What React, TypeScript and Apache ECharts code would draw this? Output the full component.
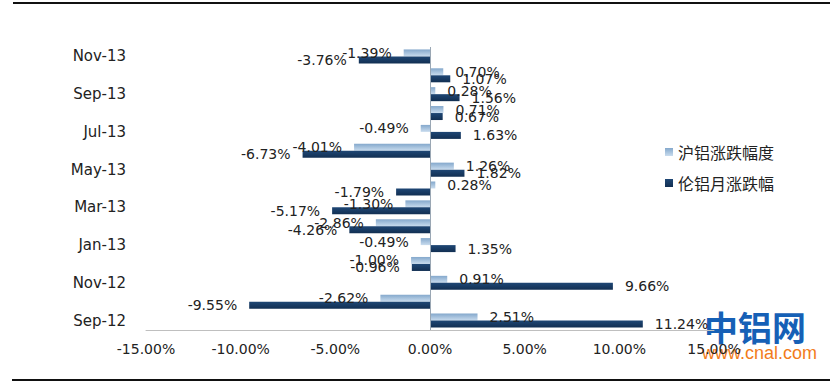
import React, { useEffect, useRef } from "react";
import * as echarts from "echarts";

const categories = [
  "Sep-12", "Oct-12", "Nov-12", "Dec-12", "Jan-13", "Feb-13", "Mar-13", "Apr-13",
  "May-13", "Jun-13", "Jul-13", "Aug-13", "Sep-13", "Oct-13", "Nov-13",
];
const shfeChange = [2.51, -2.62, 0.91, -1.0, -0.49, -2.86, -1.3, 0.28, 1.26, -4.01, -0.49, 0.71, 0.28, 0.7, -1.39];
const lmeChange = [11.24, -9.55, 9.66, -0.96, 1.35, -4.26, -5.17, -1.79, 1.82, -6.73, 1.63, 0.67, 1.56, 1.07, -3.76];
const seriesNames = ["沪铝涨跌幅度", "伦铝月涨跌幅"];

const FONT = "DejaVu Sans";

function mkData(vals: number[]) {
  return vals.map((v) => ({
    value: v,
    label: { position: v >= 0 ? "right" : "left" },
  }));
}

export default function App() {
  const ref = useRef<HTMLDivElement>(null);
  useEffect(() => {
    document.body.style.margin = "0";
    const chart = echarts.init(ref.current!, undefined, { renderer: "svg" });
    const labelCommon = {
      show: true,
      distance: 12,
      fontFamily: FONT,
      fontSize: 14,
      color: "#222",
      formatter: (p: any) => Number(p.value).toFixed(2) + "%",
    };
    chart.setOption({
      animation: false,
      backgroundColor: "#fff",
      grid: { left: 146, right: 123, top: 47, bottom: 56, containLabel: false },
      legend: {
        orient: "vertical",
        left: 660,
        top: 139,
        itemWidth: 8,
        itemHeight: 8,
        itemGap: 15,
        icon: "rect",
        textStyle: { fontFamily: "Noto Sans CJK SC", fontSize: 16, color: "#222" },
        data: seriesNames,
      },
      xAxis: {
        type: "value",
        min: -15,
        max: 15,
        interval: 5,
        axisLine: { show: true, lineStyle: { color: "#bfbfbf", width: 1 } },
        axisTick: { show: false },
        splitLine: { show: false },
        axisLabel: {
          fontFamily: FONT,
          fontSize: 14,
          color: "#222",
          margin: 12,
          formatter: (v: number) => v.toFixed(2) + "%",
        },
      },
      yAxis: {
        type: "category",
        data: categories,
        axisLine: { show: false },
        axisTick: { show: false },
        axisLabel: {
          interval: 1,
          fontFamily: FONT,
          fontSize: 15,
          color: "#222",
          margin: 20,
        },
      },
      series: [
        {
          name: seriesNames[0],
          type: "bar",
          barWidth: 7,
          barGap: "0%",
          itemStyle: {
            color: new echarts.graphic.LinearGradient(0, 0, 0, 1, [
              { offset: 0, color: "#84a8cc" },
              { offset: 1, color: "#c9dcee" },
            ]),
          },
          label: labelCommon,
          data: mkData(shfeChange),
          markLine: {
            silent: true,
            symbol: "none",
            label: { show: false },
            lineStyle: { color: "#9aa7b4", type: "solid", width: 1 },
            data: [{ xAxis: 0 }],
          },
        },
        {
          name: seriesNames[1],
          type: "bar",
          barWidth: 7,
          barGap: "0%",
          itemStyle: {
            color: new echarts.graphic.LinearGradient(0, 0, 0, 1, [
              { offset: 0, color: "#1f4775" },
              { offset: 1, color: "#122f52" },
            ]),
          },
          label: labelCommon,
          data: mkData(lmeChange),
        },
      ],
      graphic: [
        { type: "line", shape: { x1: 13, y1: 3, x2: 830, y2: 3 }, style: { stroke: "#111", lineWidth: 2 } },
        { type: "line", shape: { x1: 12, y1: 380, x2: 830, y2: 380 }, style: { stroke: "#111", lineWidth: 2 } },
        {
          type: "text",
          left: 704,
          top: 309,
          style: { text: "中铝网", fontFamily: "Noto Sans CJK SC", fontWeight: "bold", fontSize: 34, fill: "#1660b6" },
        },
        {
          type: "text",
          left: 702,
          top: 344,
          style: { text: "www.cnal.com", fontFamily: "Liberation Sans", fontSize: 18, fill: "#f27c1c" },
        },
      ],
    });
    return () => chart.dispose();
  }, []);
  return <div ref={ref} style={{ width: 837, height: 386 }} />;
}
